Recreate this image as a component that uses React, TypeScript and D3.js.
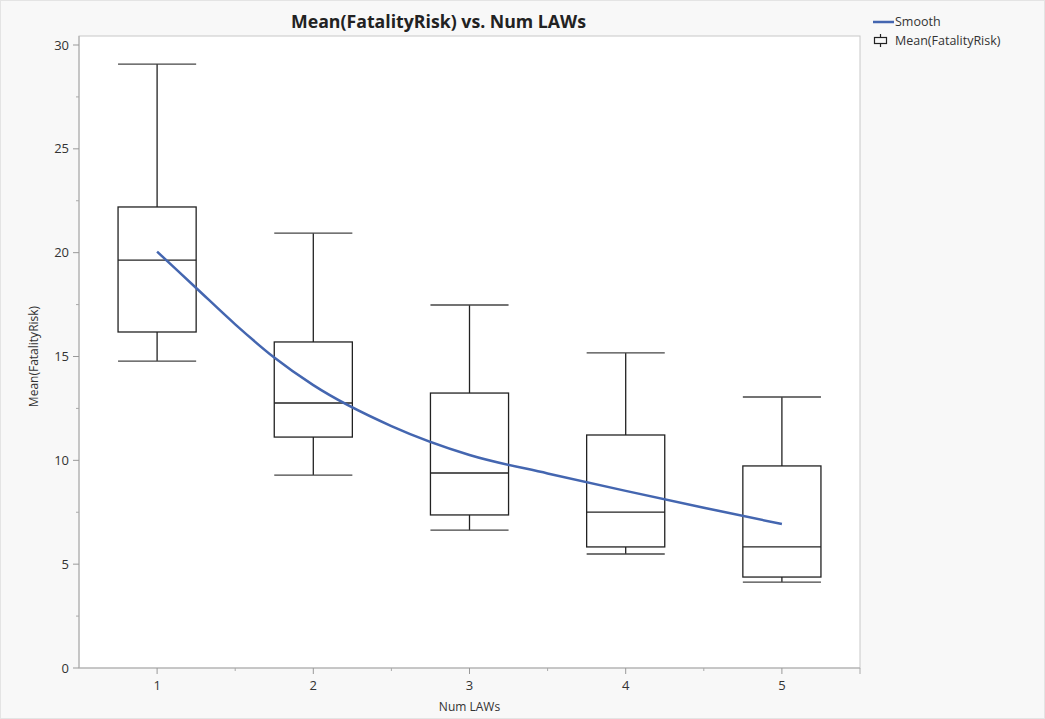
import React from "react";
import * as d3 from "d3";

const categories = [1, 2, 3, 4, 5];
const whiskerLow = [14.78, 9.29, 6.64, 5.49, 4.14];
const q1 = [16.18, 11.12, 7.37, 5.83, 4.38];
const median = [19.64, 12.76, 9.39, 7.51, 5.83];
const q3 = [22.2, 15.7, 13.24, 11.22, 9.73];
const whiskerHigh = [29.08, 20.94, 17.48, 15.17, 13.05];

const smoothX = [1, 1.25, 1.5, 1.75, 2, 2.5, 3, 3.5, 4, 4.5, 5];
const smoothY = [20.05, 18.3, 16.55, 14.95, 13.62, 11.65, 10.26, 9.37, 8.53, 7.72, 6.93];

const yTicks = [0, 5, 10, 15, 20, 25, 30];
const yMinor = [2.5, 7.5, 12.5, 17.5, 22.5, 27.5];
const xMinor = [1.5, 2.5, 3.5, 4.5];

const FONT = "'Open Sans', 'Noto Sans', sans-serif";

export default function App() {
  const left = 79, right = 860, top = 36, bottom = 668;
  const x = d3.scaleLinear().domain([0.5, 5.5]).range([left, right]);
  const y = d3.scaleLinear().domain([0, 30]).range([bottom, 45]);
  const halfW = x(1.25) - x(1);
  const line = d3
    .line<number>()
    .x((_, i) => x(smoothX[i]))
    .y((d) => y(d))
    .curve(d3.curveMonotoneX);

  return (
    <svg
      width={1045}
      height={719}
      style={{ position: "absolute", left: 0, top: 0, fontFamily: FONT }}
    >
      <rect x={0} y={0} width={1045} height={719} fill="#f8f8f8" />
      <rect x={0.5} y={0.5} width={1044} height={718} fill="none" stroke="#e4e4e4" />
      <rect x={left} y={top} width={right - left} height={bottom - top} fill="#ffffff" stroke="#c8c8c8" strokeWidth={1} />

      <text
        x={438.5}
        y={28}
        textAnchor="middle"
        fontSize={17}
        fontWeight="bold"
        fill="#222"
        textLength={295}
        lengthAdjust="spacingAndGlyphs"
      >
        Mean(FatalityRisk) vs. Num LAWs
      </text>

      {/* y axis */}
      <line x1={left} x2={left} y1={top} y2={bottom} stroke="#aaa" />
      {yTicks.map((t) => (
        <g key={"yt" + t}>
          <line x1={left - 6} x2={left} y1={y(t)} y2={y(t)} stroke="#999" />
          <text x={left - 10} y={y(t)} dy="0.35em" textAnchor="end" fontSize={13} fill="#333">
            {t}
          </text>
        </g>
      ))}
      {yMinor.map((t) => (
        <line key={"ym" + t} x1={left - 3} x2={left} y1={y(t)} y2={y(t)} stroke="#aaa" />
      ))}
      <text
        transform={`translate(38,${y(15)}) rotate(-90)`}
        textAnchor="middle"
        fontSize={12}
        fill="#333"
      >
        Mean(FatalityRisk)
      </text>

      {/* x axis */}
      <line x1={left} x2={right} y1={bottom} y2={bottom} stroke="#aaa" />
      {categories.map((c) => (
        <g key={"xt" + c}>
          <line x1={x(c)} x2={x(c)} y1={bottom} y2={bottom + 6} stroke="#999" />
          <text x={x(c)} y={bottom + 22} textAnchor="middle" fontSize={13} fill="#333">
            {c}
          </text>
        </g>
      ))}
      {xMinor.map((t) => (
        <line key={"xm" + t} x1={x(t)} x2={x(t)} y1={bottom} y2={bottom + 3} stroke="#aaa" />
      ))}
      <line x1={right} x2={right} y1={bottom} y2={bottom + 6} stroke="#aaa" />
      <text x={(left + right) / 2} y={bottom + 43} textAnchor="middle" fontSize={12} fill="#333">
        Num LAWs
      </text>

      {/* boxes */}
      {categories.map((c, i) => {
        const cx = x(c);
        return (
          <g key={"b" + c} stroke="#222" strokeWidth={1.3} fill="none">
            <line x1={cx} x2={cx} y1={y(whiskerHigh[i])} y2={y(q3[i])} />
            <line x1={cx} x2={cx} y1={y(q1[i])} y2={y(whiskerLow[i])} />
            <line x1={cx - halfW} x2={cx + halfW} y1={y(whiskerHigh[i])} y2={y(whiskerHigh[i])} stroke="#444" />
            <line x1={cx - halfW} x2={cx + halfW} y1={y(whiskerLow[i])} y2={y(whiskerLow[i])} stroke="#444" />
            <rect x={cx - halfW} y={y(q3[i])} width={2 * halfW} height={y(q1[i]) - y(q3[i])} />
            <line x1={cx - halfW} x2={cx + halfW} y1={y(median[i])} y2={y(median[i])} />
          </g>
        );
      })}

      <path d={line(smoothY) || ""} fill="none" stroke="#4466b0" strokeWidth={2.5} />

      {/* legend */}
      <line x1={873} x2={894} y1={22} y2={22} stroke="#4466b0" strokeWidth={2.5} />
      <text x={895} y={22} dy="0.35em" fontSize={12.5} fill="#333">Smooth</text>
      <g stroke="#222" strokeWidth={1.2} fill="none">
        <rect x={874.5} y={37.5} width={12} height={6} />
        <line x1={880.5} x2={880.5} y1={34} y2={37.5} />
        <line x1={880.5} x2={880.5} y1={43.5} y2={47} />
      </g>
      <text x={895} y={41} dy="0.35em" fontSize={12.5} fill="#333">Mean(FatalityRisk)</text>
    </svg>
  );
}
